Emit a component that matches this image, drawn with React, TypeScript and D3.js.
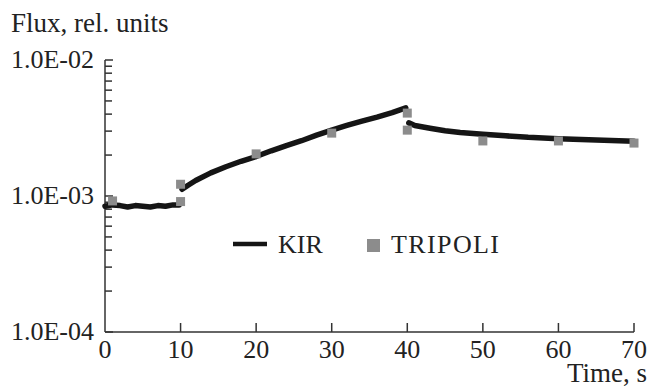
import React from 'react';
import * as d3 from 'd3';

// KIR curve, three pieces (the line breaks at t=10 and t=40)
const kirSeg1T = [0, 1, 2, 3, 4, 5, 6, 7, 8, 9, 9.8];
const kirSeg1V = [0.84e-3, 0.86e-3, 0.85e-3, 0.83e-3, 0.85e-3, 0.84e-3, 0.83e-3, 0.85e-3, 0.84e-3, 0.86e-3, 0.86e-3];
const kirSeg2T = [10.2, 11, 12, 14, 16, 18, 20, 22, 24, 26, 28, 30, 32, 34, 36, 38, 39.8];
const kirSeg2V = [1.12e-3, 1.2e-3, 1.3e-3, 1.48e-3, 1.64e-3, 1.8e-3, 1.95e-3, 2.15e-3, 2.35e-3, 2.55e-3, 2.8e-3, 3.05e-3, 3.3e-3, 3.55e-3, 3.8e-3, 4.1e-3, 4.45e-3];
const kirSeg3T = [40.2, 41, 43, 45, 47, 50, 53, 56, 60, 63, 66, 70];
const kirSeg3V = [3.45e-3, 3.3e-3, 3.15e-3, 3.02e-3, 2.93e-3, 2.84e-3, 2.77e-3, 2.7e-3, 2.64e-3, 2.6e-3, 2.57e-3, 2.53e-3];

// TRIPOLI points
const tripoliT = [1, 10, 10, 20, 30, 40, 40, 50, 60, 70];
const tripoliV = [9.2e-4, 9.1e-4, 1.22e-3, 2.04e-3, 2.9e-3, 4.07e-3, 3.05e-3, 2.54e-3, 2.54e-3, 2.45e-3];

const xTicks = [0, 10, 20, 30, 40, 50, 60, 70];
const yMajor = [1e-4, 1e-3, 1e-2];
const yLabels = ['1.0E-04', '1.0E-03', '1.0E-02'];

const W = 650, H = 388;
const font = '"Liberation Serif", "Times New Roman", serif';

export default function App() {
  const x = d3.scaleLinear().domain([0, 70]).range([105, 634]);
  const y = d3.scaleLog().domain([1e-4, 1e-2]).range([332, 60]);

  const line = d3.line<[number, number]>()
    .x(d => x(d[0]))
    .y(d => y(d[1]));

  const segs = [
    [kirSeg1T, kirSeg1V],
    [kirSeg2T, kirSeg2V],
    [kirSeg3T, kirSeg3V],
  ].map(([t, v]) => t.map((ti, i) => [ti, v[i]] as [number, number]));

  const yMinor = y.ticks().filter(v => !yMajor.some(m => Math.abs(m - v) / m < 1e-6));
  const ms = 9;

  return (
    <svg width={W} height={H} style={{ position: 'absolute', left: 0, top: 0, background: '#fff' }}
      fontFamily={font}>
      <text x={11} y={32} fontSize={27} fill="#222">Flux, rel. units</text>
      <text x={647} y={382} fontSize={27} fill="#222" textAnchor="end">Time, s</text>

      {/* axes */}
      <g stroke="#333" strokeWidth={1.5} fill="none">
        <line x1={x(0)} x2={x(0)} y1={y(1e-2)} y2={y(1e-4)} />
        <line x1={x(0)} x2={x(70)} y1={y(1e-4)} y2={y(1e-4)} />
        {xTicks.slice(1).map(t => (
          <line key={t} x1={x(t)} x2={x(t)} y1={y(1e-4)} y2={y(1e-4) - 9} />
        ))}
        {yMajor.map(v => (
          <line key={v} x1={x(0)} x2={x(0) + 8} y1={y(v)} y2={y(v)} />
        ))}
        {yMinor.map(v => (
          <line key={v} x1={x(0)} x2={x(0) + 7} y1={y(v)} y2={y(v)} />
        ))}
      </g>
      <g fontSize={26} fill="#222">
        {xTicks.map(t => (
          <text key={t} x={x(t)} y={358} textAnchor="middle">{t}</text>
        ))}
        {yMajor.map((v, i) => (
          <text key={v} x={94} y={y(v) + 8} textAnchor="end">{yLabels[i]}</text>
        ))}
      </g>

      {/* KIR */}
      {segs.map((s, i) => (
        <path key={i} d={line(s) || ''} fill="none" stroke="#151515" strokeWidth={5.5}
          strokeLinejoin="round" strokeLinecap="round" />
      ))}

      {/* TRIPOLI */}
      {tripoliT.map((t, i) => (
        <rect key={i} x={x(t) - ms / 2} y={y(tripoliV[i]) - ms / 2} width={ms} height={ms} fill="#8c8c8c" />
      ))}

      {/* legend */}
      <line x1={233} x2={267} y1={244} y2={244} stroke="#151515" strokeWidth={4.5} />
      <text x={278} y={253} fontSize={26} fill="#222">KIR</text>
      <rect x={367} y={239} width={13} height={13} fill="#8c8c8c" />
      <text x={391} y={253} fontSize={26} fill="#222" textLength={108}>TRIPOLI</text>
    </svg>
  );
}
